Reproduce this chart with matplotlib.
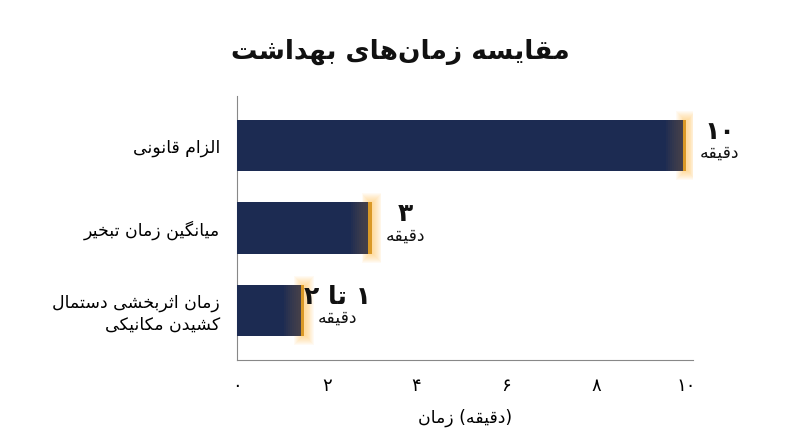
import matplotlib
matplotlib.use('Agg')
import matplotlib.pyplot as plt
import numpy as np

# ── minimal Persian shaper (presentation forms, visual order) ─────────────────
FORMS = {  # iso, fin, ini, med  (None -> does not join to the next letter)
    'ا': (0xFE8D, 0xFE8E, None, None), 'ب': (0xFE8F, 0xFE90, 0xFE91, 0xFE92),
    'پ': (0xFB56, 0xFB57, 0xFB58, 0xFB59), 'ت': (0xFE95, 0xFE96, 0xFE97, 0xFE98),
    'ث': (0xFE99, 0xFE9A, 0xFE9B, 0xFE9C), 'ج': (0xFE9D, 0xFE9E, 0xFE9F, 0xFEA0),
    'چ': (0xFB7A, 0xFB7B, 0xFB7C, 0xFB7D), 'ح': (0xFEA1, 0xFEA2, 0xFEA3, 0xFEA4),
    'خ': (0xFEA5, 0xFEA6, 0xFEA7, 0xFEA8), 'د': (0xFEA9, 0xFEAA, None, None),
    'ذ': (0xFEAB, 0xFEAC, None, None), 'ر': (0xFEAD, 0xFEAE, None, None),
    'ز': (0xFEAF, 0xFEB0, None, None), 'ژ': (0xFB8A, 0xFB8B, None, None),
    'س': (0xFEB1, 0xFEB2, 0xFEB3, 0xFEB4), 'ش': (0xFEB5, 0xFEB6, 0xFEB7, 0xFEB8),
    'ص': (0xFEB9, 0xFEBA, 0xFEBB, 0xFEBC), 'ض': (0xFEBD, 0xFEBE, 0xFEBF, 0xFEC0),
    'ط': (0xFEC1, 0xFEC2, 0xFEC3, 0xFEC4), 'ظ': (0xFEC5, 0xFEC6, 0xFEC7, 0xFEC8),
    'ع': (0xFEC9, 0xFECA, 0xFECB, 0xFECC), 'غ': (0xFECD, 0xFECE, 0xFECF, 0xFED0),
    'ف': (0xFED1, 0xFED2, 0xFED3, 0xFED4), 'ق': (0xFED5, 0xFED6, 0xFED7, 0xFED8),
    'ک': (0xFB8E, 0xFB8F, 0xFB90, 0xFB91), 'گ': (0xFB92, 0xFB93, 0xFB94, 0xFB95),
    'ل': (0xFEDD, 0xFEDE, 0xFEDF, 0xFEE0), 'م': (0xFEE1, 0xFEE2, 0xFEE3, 0xFEE4),
    'ن': (0xFEE5, 0xFEE6, 0xFEE7, 0xFEE8), 'ه': (0xFEE9, 0xFEEA, 0xFEEB, 0xFEEC),
    'و': (0xFEED, 0xFEEE, None, None), 'ی': (0xFBFC, 0xFBFD, 0xFBFE, 0xFBFF),
}

def joins_next(c):
    return c in FORMS and FORMS[c][2] is not None

def shape(text):
    """Shape logical Persian text and return it in visual (LTR) order."""
    out = []
    for i, c in enumerate(text):
        if c not in FORMS:
            if c != '\u200c':
                out.append(c)
            continue
        prev = text[i - 1] if i > 0 else ''
        nxt = text[i + 1] if i + 1 < len(text) else ''
        jp = joins_next(prev)
        jn = joins_next(c) and nxt in FORMS
        iso, fin, ini, med = FORMS[c]
        if jp and jn:
            code = med
        elif jp:
            code = fin
        elif jn:
            code = ini
        else:
            code = iso
        out.append(chr(code))
    mirror = {'(': ')', ')': '('}
    vis = [mirror.get(c, c) for c in reversed(out)]
    # keep digit runs LTR
    s, res, run = ''.join(vis), [], ''
    for c in s:
        if c.isdigit():
            run += c
        else:
            res.append(run[::-1]); run = ''; res.append(c)
    res.append(run[::-1])
    return ''.join(res)

plt.rcParams['font.family'] = ['DejaVu Sans']

# ── data ─────────────────────────────────────────────────────────────────────
categories = ['الزام قانونی', 'میانگین زمان تبخیر',
              'زمان اثربخشی دستمال\nکشیدن مکانیکی']
values = [10, 3, 1.5]
value_labels = ['۱۰', '۳', '۱ تا ۲']
unit = 'دقیقه'
ticks = [0, 2, 4, 6, 8, 10]
tick_labels = ['۰', '۲', '۴', '۶', '۸', '۱۰']
title = 'مقایسه زمان\u200cهای بهداشت'

NAVY = '#1c2b52'
GLOW = '#ffb01f'

fig = plt.figure(figsize=(8, 4.47), dpi=100)
ax = fig.add_axes([0.296, 0.195, 0.57, 0.59])

y = np.arange(len(categories))[::-1]
H = 0.62
ax.barh(y, values, height=H, color=NAVY, zorder=3)
# soft orange glow at bar ends
for v, yy in zip(values, y):
    # darker fade inside the bar end
    for k in range(10):
        w = 0.45 * (1 - k / 10)
        ax.barh(yy, w, left=v - w, height=H, color='#8a6a45',
                alpha=0.06, zorder=4, linewidth=0)
    # halo outside
    for k in range(10):
        ax.barh(yy, 0.08 + 0.04 * k, left=v - 0.04 - 0.02 * k,
                height=H + 0.025 * k, color=GLOW, alpha=0.05,
                zorder=2, linewidth=0)
    ax.barh(yy, 0.07, left=v - 0.07, height=H, color=GLOW, alpha=0.8, zorder=5)

for v, yy, lab in zip(values, y, value_labels):
    ax.text(v + 0.75, yy + 0.02, shape(lab), ha='center', va='bottom',
            fontsize=18, fontweight='bold', color='#111111')
    ax.text(v + 0.75, yy + 0.02, shape(unit), ha='center', va='top',
            fontsize=12.5, color='#111111')

ax.set_yticks(y)
ax.set_yticklabels(['\n'.join(shape(p) for p in c.split('\n')) for c in categories],
                   fontsize=12.5, ha='right')
ax.tick_params(axis='y', length=0, pad=12)
ax.set_xticks(ticks)
ax.set_xticklabels(tick_labels, fontsize=13)
ax.tick_params(axis='x', length=0, pad=12)
ax.set_xlim(0, 10.15)
ax.set_ylim(-0.6, 2.6)
for s in ['top', 'right']:
    ax.spines[s].set_visible(False)
for s in ['left', 'bottom']:
    ax.spines[s].set_color('#888888')
ax.set_xlabel(shape('زمان') + ' (' + shape('دقیقه') + ')', fontsize=12.5, labelpad=10)

fig.text(0.5, 0.885, shape(title), ha='center', va='center',
         fontsize=19, fontweight='bold', color='#111111')

fig.savefig('out.png', dpi=100, facecolor='white')
